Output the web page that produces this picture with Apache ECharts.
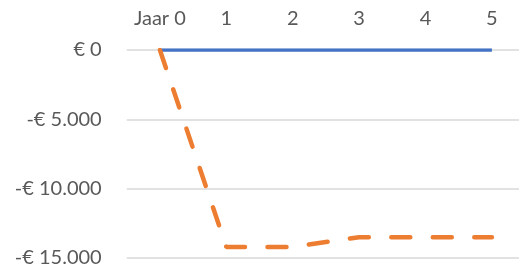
<!DOCTYPE html>
<html><head><meta charset="utf-8">
<script src="https://cdn.jsdelivr.net/npm/echarts@6/dist/echarts.min.js"></script>
<style>html,body{margin:0;padding:0;background:#fff}#c{width:519px;height:273px}</style>
</head><body><div id="c"></div>
<script>
const categories = ['Jaar 0', '1', '2', '3', '4', '5'];
const seriesBlue = [0, 0, 0, 0, 0, 0];
const seriesOrange = [0, -14200, -14200, -13500, -13500, -13500];
const yTicks = [0, -5000, -10000, -15000];

function fmt(v) {
  const a = Math.abs(v).toString().replace(/\B(?=(\d{3})+(?!\d))/g, '.');
  return (v < 0 ? '-' : '') + '€ ' + a;
}

const chart = echarts.init(document.getElementById('c'), null, {renderer: 'canvas'});
chart.setOption({
  animation: false,
  backgroundColor: '#fff',
  grid: {left: 126.7, top: 50, width: 398.4, height: 208, outerBoundsMode: 'none', containLabel: false},
  xAxis: {
    type: 'category', position: 'top', data: categories, boundaryGap: true,
    axisLine: {show: false}, axisTick: {show: false},
    axisLabel: {color: '#595959', fontFamily: 'Lato', fontSize: 20, margin: 21, interval: 0, hideOverlap: false}
  },
  yAxis: {
    type: 'value', min: -15000, max: 0, interval: 5000,
    axisLine: {show: false}, axisTick: {show: false},
    splitLine: {lineStyle: {color: '#D9D9D9', width: 1.5}},
    axisLabel: {color: '#595959', fontFamily: 'Lato', fontSize: 20, margin: 25,
      formatter: v => yTicks.includes(v) ? fmt(v) : ''}
  },
  series: [
    {type: 'line', data: seriesBlue, symbol: 'none',
     lineStyle: {color: '#4472C4', width: 3.5, cap: 'butt'}},
    {type: 'line', data: seriesOrange, symbol: 'none',
     lineStyle: {color: '#ED7D31', width: 4.5, type: [19, 22.5], cap: 'round'}}
  ]
});
</script></body></html>
